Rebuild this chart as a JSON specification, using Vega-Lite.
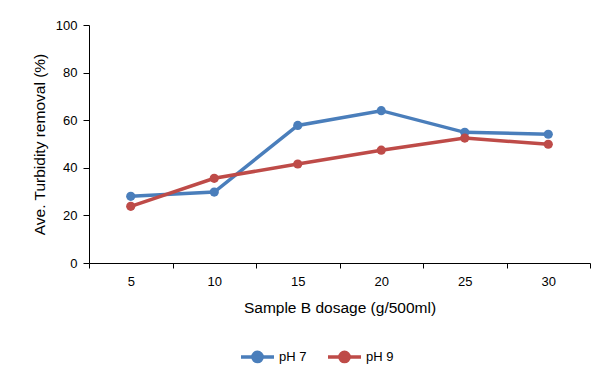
{
  "$schema": "https://vega.github.io/schema/vega-lite/v6.json",
  "width": 501,
  "height": 238,
  "autosize": {"type": "none"},
  "padding": {"left": 89, "top": 25, "right": 25, "bottom": 123},
  "background": "white",
  "config": {
    "view": {"stroke": null},
    "font": "Liberation Sans",
    "axis": {
      "domainColor": "#000000",
      "tickColor": "#000000",
      "labelColor": "#000000",
      "titleColor": "#000000",
      "labelFontSize": 13,
      "titleFontSize": 15.5,
      "titleFontWeight": "normal",
      "grid": false
    },
    "legend": {"labelFontSize": 13, "labelColor": "#000000"}
  },
  "data": {
    "values": [
      {"dosage": 5, "series": "pH 7", "removal": 28},
      {"dosage": 10, "series": "pH 7", "removal": 29.8},
      {"dosage": 15, "series": "pH 7", "removal": 57.8},
      {"dosage": 20, "series": "pH 7", "removal": 64},
      {"dosage": 25, "series": "pH 7", "removal": 54.9},
      {"dosage": 30, "series": "pH 7", "removal": 54.1},
      {"dosage": 5, "series": "pH 9", "removal": 23.8},
      {"dosage": 10, "series": "pH 9", "removal": 35.6},
      {"dosage": 15, "series": "pH 9", "removal": 41.6},
      {"dosage": 20, "series": "pH 9", "removal": 47.4},
      {"dosage": 25, "series": "pH 9", "removal": 52.5},
      {"dosage": 30, "series": "pH 9", "removal": 49.9}
    ]
  },
  "encoding": {
    "x": {
      "field": "dosage",
      "type": "ordinal",
      "scale": {"type": "band", "paddingInner": 0, "paddingOuter": 0},
      "axis": {
        "title": "Sample B dosage (g/500ml)",
        "labelAngle": 0,
        "tickBand": "extent",
        "tickSize": 5,
        "labelPadding": 7,
        "titlePadding": 12
      }
    },
    "y": {
      "field": "removal",
      "type": "quantitative",
      "scale": {"domain": [0, 100], "nice": false},
      "axis": {
        "values": [0, 20, 40, 60, 80, 100],
        "title": "Ave. Turbidity removal (%)",
        "tickSize": 6,
        "labelPadding": 6,
        "titlePadding": 8
      }
    },
    "color": {
      "field": "series",
      "type": "nominal",
      "scale": {"domain": ["pH 7", "pH 9"], "range": ["#4a7ebb", "#be4b48"]},
      "legend": {
        "title": null,
        "orient": "none",
        "direction": "horizontal",
        "legendX": 150,
        "legendY": 313,
        "symbolType": "M-1,0L1,0M0.28,0A0.28,0.28,0,1,1,-0.28,0A0.28,0.28,0,1,1,0.28,0Z",
        "symbolSize": 1089,
        "symbolStrokeWidth": 3.5,
        "labelOffset": 3,
        "columnPadding": 14
      }
    }
  },
  "layer": [
    {"mark": {"type": "line", "strokeWidth": 3.5}},
    {"mark": {"type": "point", "filled": true, "size": 85, "opacity": 1}}
  ]
}
